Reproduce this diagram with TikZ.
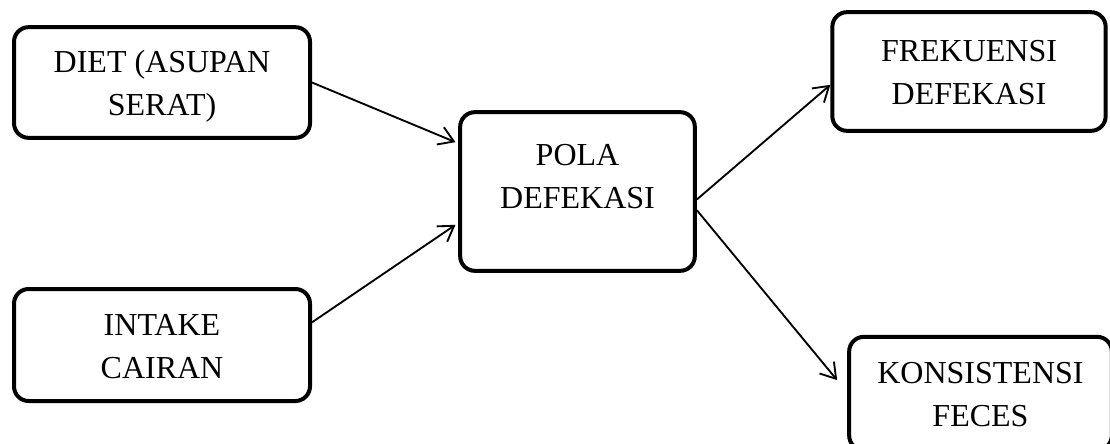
\documentclass[tikz,border=0pt]{standalone}
\usepackage{fontspec}
\setmainfont{Liberation Serif}
\usetikzlibrary{arrows.meta}

\begin{document}
\begin{tikzpicture}[x=0.75pt,y=-0.75pt]
        \tikzset{
        pd node/.style={draw,rounded corners=11pt,line width=3pt,align=center,inner sep=0pt,
            text height=50pt,text depth=0pt,font=\fontsize{24pt}{32.25pt}\selectfont},
        pd edge/.style={-{Straight Barb[length=11pt,width=14pt]},line width=1.4pt}
        }
        \useasboundingbox (0,0) rectangle (1110,443);
        \node[pd node,minimum width=222pt,minimum height=83pt] (diet) at (162,82.5) {DIET (ASUPAN\\SERAT)};
        \node[pd node,minimum width=222pt,minimum height=84pt] (intake) at (162,345) {INTAKE\\CAIRAN};
        \node[pd node,minimum width=176pt,minimum height=119pt,text height=24.8pt] (pola) at (577.5,191.5) {POLA\\DEFEKASI};
        \node[pd node,minimum width=205pt,minimum height=89pt] (frek) at (969,71.5) {FREKUENSI\\DEFEKASI};
        \node[pd node,minimum width=197pt,minimum height=85pt] (kons) at (980.5,393.5) {KONSISTENSI\\FECES};
        
        \path[draw]
        (diet.east) edge[pd edge] ([xshift=-2pt,yshift=37pt]pola.west)
        ([yshift=17pt]intake.east) edge[pd edge] ([xshift=-2pt,yshift=-25pt]pola.west)
        ([yshift=-6pt]pola.east) edge[pd edge] ([yshift=-10pt]frek.west)
        ([yshift=-14pt]pola.east) edge[pd edge] ([xshift=-7.5pt,yshift=10pt]kons.west)
        ;
    \end{tikzpicture}
\end{document}
